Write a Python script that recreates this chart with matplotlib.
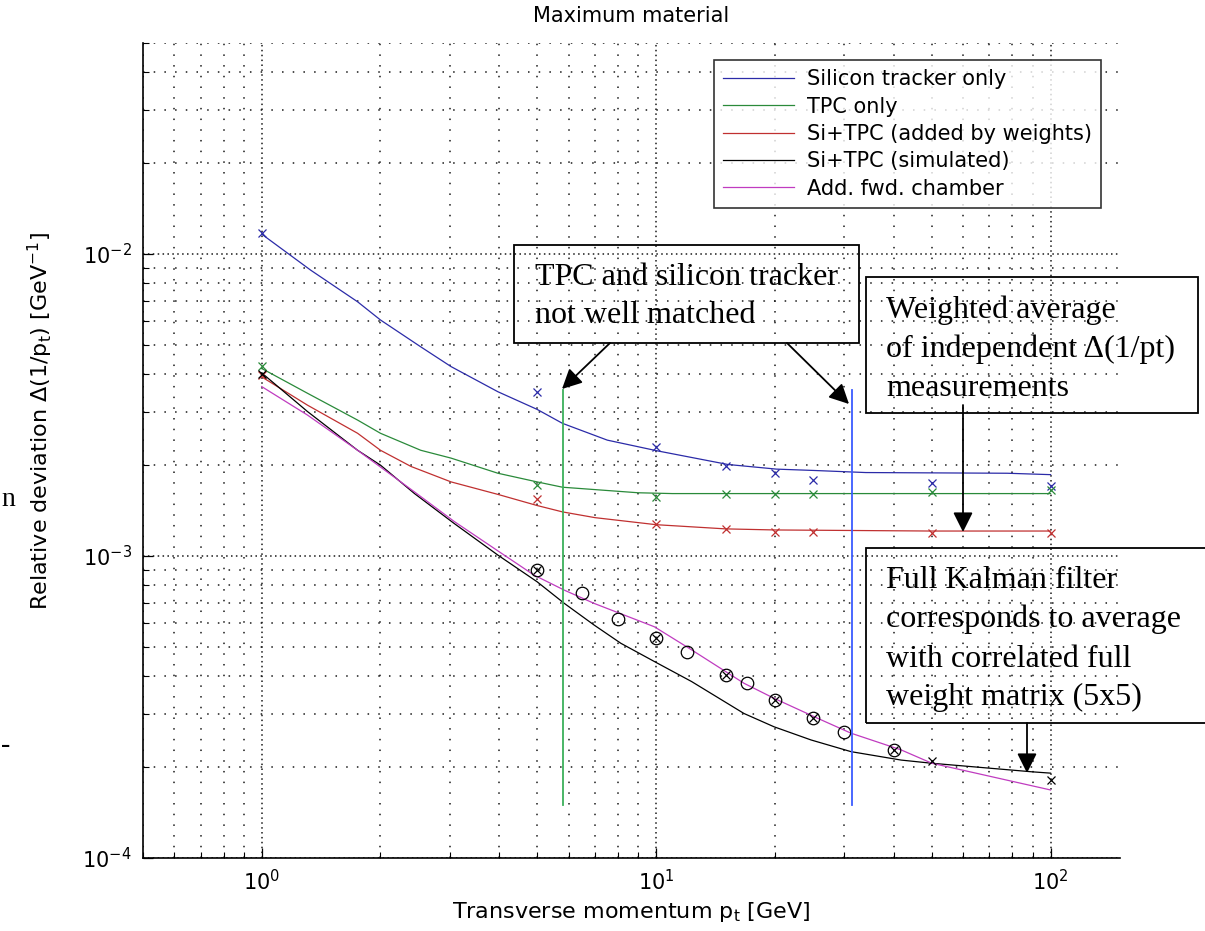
import matplotlib
matplotlib.use("Agg")
import matplotlib.pyplot as plt
from matplotlib.patches import Rectangle, FancyArrowPatch
from matplotlib.ticker import LogLocator, NullFormatter

W, H = 1205, 931

# --- curves ---
si_x = [1, 1.33, 1.75, 2.0, 2.53, 3.02, 3.97, 4.99, 5.79, 7.52, 10.07, 15.2, 20.2, 25.2, 34, 77.7, 100]
si_y = [0.01164, 0.00885, 0.00695, 0.00605, 0.00493, 0.00424, 0.00350, 0.00306, 0.00275, 0.00242,
        0.00223, 0.00201, 0.00194, 0.00192, 0.00189, 0.00188, 0.00186]

tpc_x = [1, 1.306, 1.75, 2.0, 2.53, 3.02, 3.97, 4.99, 5.79, 9.0, 11.0, 15.2, 100]
tpc_y = [0.00418, 0.00346, 0.00282, 0.00255, 0.00224, 0.00211, 0.00188, 0.00176, 0.00169, 0.00162,
         0.00161, 0.00161, 0.00161]

wgt_x = [1, 1.306, 1.75, 2.0, 2.39, 3.02, 3.97, 4.99, 5.79, 7.0, 10, 15, 20, 50, 100]
wgt_y = [0.00392, 0.00316, 0.00255, 0.00224, 0.00198, 0.00176, 0.00160, 0.00147, 0.00140, 0.00134,
         0.00127, 0.00123, 0.00122, 0.00121, 0.00121]

sim_x = [1, 1.306, 1.75, 2.0, 2.44, 3.08, 3.97, 4.99, 5.85, 6.96, 8.14, 10.1, 12.3, 16.7, 19.9, 24.7,
         31.2, 41.8, 49.9, 89.5, 100]
sim_y = [0.00404, 0.00301, 0.00224, 0.00200, 0.00161, 0.00128, 0.001007, 0.000822, 0.000697, 0.000591,
         0.000514, 0.000441, 0.000384, 0.000301, 0.000272, 0.000246, 0.000225, 0.000211, 0.000206,
         0.000193, 0.000191]

fwd_x = [1, 1.306, 1.75, 2.44, 3.08, 3.97, 4.9, 5.85, 6.96, 9.9, 12.3, 16.7, 19.9, 25.7, 31.2, 41.8, 50, 100]
fwd_y = [0.00364, 0.00293, 0.00224, 0.00163, 0.00130, 0.00104, 0.000865, 0.000771, 0.000697, 0.000583,
         0.000489, 0.000379, 0.000338, 0.000290, 0.000259, 0.000228, 0.000206, 0.000168]

# --- measured points ---
pts_x = [1, 5, 10, 15, 20, 25, 50, 100]
si_pts = [0.01174, 0.00349, 0.00229, 0.00198, 0.00188, 0.00179, 0.00174, 0.00170]
tpc_pts = [0.00426, 0.00172, 0.00157, 0.00160, 0.00161, 0.00161, 0.00163, 0.00165]
wgt_pts = [0.00397, 0.00154, 0.00128, 0.00123, 0.00120, 0.00120, 0.00119, 0.00119]

sim_pts_x = [1, 5, 10, 15, 20, 25, 40, 50, 100]
sim_pts_y = [0.00400, 0.000899, 0.000534, 0.000404, 0.000334, 0.000290, 0.000228, 0.000209, 0.000181]

fwd_pts_x = [5, 6.5, 8, 10, 12, 15, 17, 20, 25, 30, 40]
fwd_pts_y = [0.000899, 0.000756, 0.000621, 0.000534, 0.000482, 0.000404, 0.000379, 0.000334,
             0.000290, 0.000261, 0.000228]

# vertical marker lines of the annotation
mark_green_x = 5.8
mark_blue_x = 31.3
mark_y = [1.5e-4, 3.56e-3]

labels = ["Silicon tracker only", "TPC only", "Si+TPC (added by weights)",
          "Si+TPC (simulated)", "Add. fwd. chamber"]
colors = ["#2b2ba8", "#2a8a3a", "#c03030", "black", "#c03cc0"]

fig = plt.figure(figsize=(W / 100, H / 100), dpi=100)
ax = fig.add_axes([143 / W, 1 - 858 / H, (1120 - 143) / W, (858 - 43) / H])

for xs, ys, c, lab in zip([si_x, tpc_x, wgt_x, sim_x, fwd_x], [si_y, tpc_y, wgt_y, sim_y, fwd_y], colors, labels):
    ax.plot(xs, ys, color=c, lw=0.9, label=lab)

ax.plot(pts_x, si_pts, "x", color=colors[0], ms=6, mew=0.9)
ax.plot(pts_x, tpc_pts, "x", color=colors[1], ms=6, mew=0.9)
ax.plot(pts_x, wgt_pts, "x", color=colors[2], ms=6, mew=0.9)
ax.plot(sim_pts_x, sim_pts_y, "x", color="black", ms=6, mew=0.9)
ax.plot(fwd_pts_x, fwd_pts_y, "o", mfc="none", mec="black", ms=9, mew=0.9)

ax.plot([mark_green_x, mark_green_x], mark_y, color="#3cb05a", lw=1.3)
ax.plot([mark_blue_x, mark_blue_x], mark_y, color="#3b5cff", lw=1.3)

ax.set_xscale("log")
ax.set_yscale("log")
ax.set_xlim(0.5, 150)
ax.set_ylim(1e-4, 0.05)

ax.xaxis.set_minor_locator(LogLocator(base=10, subs=range(2, 10), numticks=20))
ax.yaxis.set_minor_locator(LogLocator(base=10, subs=range(2, 10), numticks=20))
ax.xaxis.set_minor_formatter(NullFormatter())
ax.yaxis.set_minor_formatter(NullFormatter())
ax.tick_params(which="major", direction="in", length=7, width=0.9, labelsize=15, pad=8)
ax.tick_params(which="minor", direction="in", length=4, width=0.8)

ax.grid(True, which="major", color="0.1", lw=1.1, ls=(0, (1, 2.2)))
ax.grid(True, which="minor", color="0.1", lw=1.1, ls=(0, (1, 6)))
for s in ["top", "right"]:
    ax.spines[s].set_visible(False)
ax.spines["left"].set_linewidth(1.2)
ax.spines["bottom"].set_linewidth(1.2)

ax.set_title("Maximum material", fontsize=15, pad=15)
ax.set_xlabel(r"Transverse momentum p$_\mathregular{t}$ [GeV]", fontsize=16, labelpad=4)
ax.set_ylabel(r"Relative deviation $\mathregular{\Delta}$(1/p$_\mathregular{t}$) [GeV$^\mathregular{-1}$]",
              fontsize=16)
ax.yaxis.set_label_coords(-0.09, 0.536)

leg = ax.legend(loc="upper right", bbox_to_anchor=(0.9806, 0.979), fontsize=15, frameon=True,
                fancybox=False, edgecolor="black", borderaxespad=0, handlelength=3.4,
                labelspacing=0.35, borderpad=0.45, handletextpad=0.6)
leg.get_frame().set_linewidth(1.2)


def fp(x, y):
    return (x / W, 1 - y / H)


def box(x0, y0, x1, y1):
    fig.add_artist(Rectangle(fp(x0, y1), (x1 - x0) / W, (y1 - y0) / H, transform=fig.transFigure,
                             fill=False, edgecolor="black", lw=1.3))


def lines(x, baselines, texts):
    for yb, t in zip(baselines, texts):
        fig.text(*fp(x, yb), t, fontsize=23, family="Liberation Serif", va="baseline", ha="left")


def arrow(p0, p1):
    fig.add_artist(FancyArrowPatch(fp(*p0), fp(*p1), transform=fig.transFigure, arrowstyle="-|>",
                                   mutation_scale=30, color="black", lw=1.3, shrinkA=0, shrinkB=0))


box(514, 245, 859, 343)
lines(535, [285, 323], ["TPC and silicon tracker", "not well matched"])
box(866, 277, 1198, 413)
lines(886, [318, 357, 396], ["Weighted average", "of independent \u0394(1/pt)", "measurements"])
box(866, 548, 1210, 723)
lines(886, [588, 627, 667, 705], ["Full Kalman filter", "corresponds to average",
                                  "with correlated full", "weight matrix (5x5)"])

arrow((610, 343), (562, 389))
arrow((787, 343), (849, 404))
arrow((963, 405), (963, 532))
arrow((1027, 723), (1027, 773))

# stray slide text at the left edge
fig.text(*fp(1, 506), "n", fontsize=20, family="Liberation Serif", va="baseline", ha="left")
fig.text(*fp(1, 752), "-", fontsize=20, family="Liberation Serif", va="baseline", ha="left")

fig.savefig("out.png", dpi=100)
